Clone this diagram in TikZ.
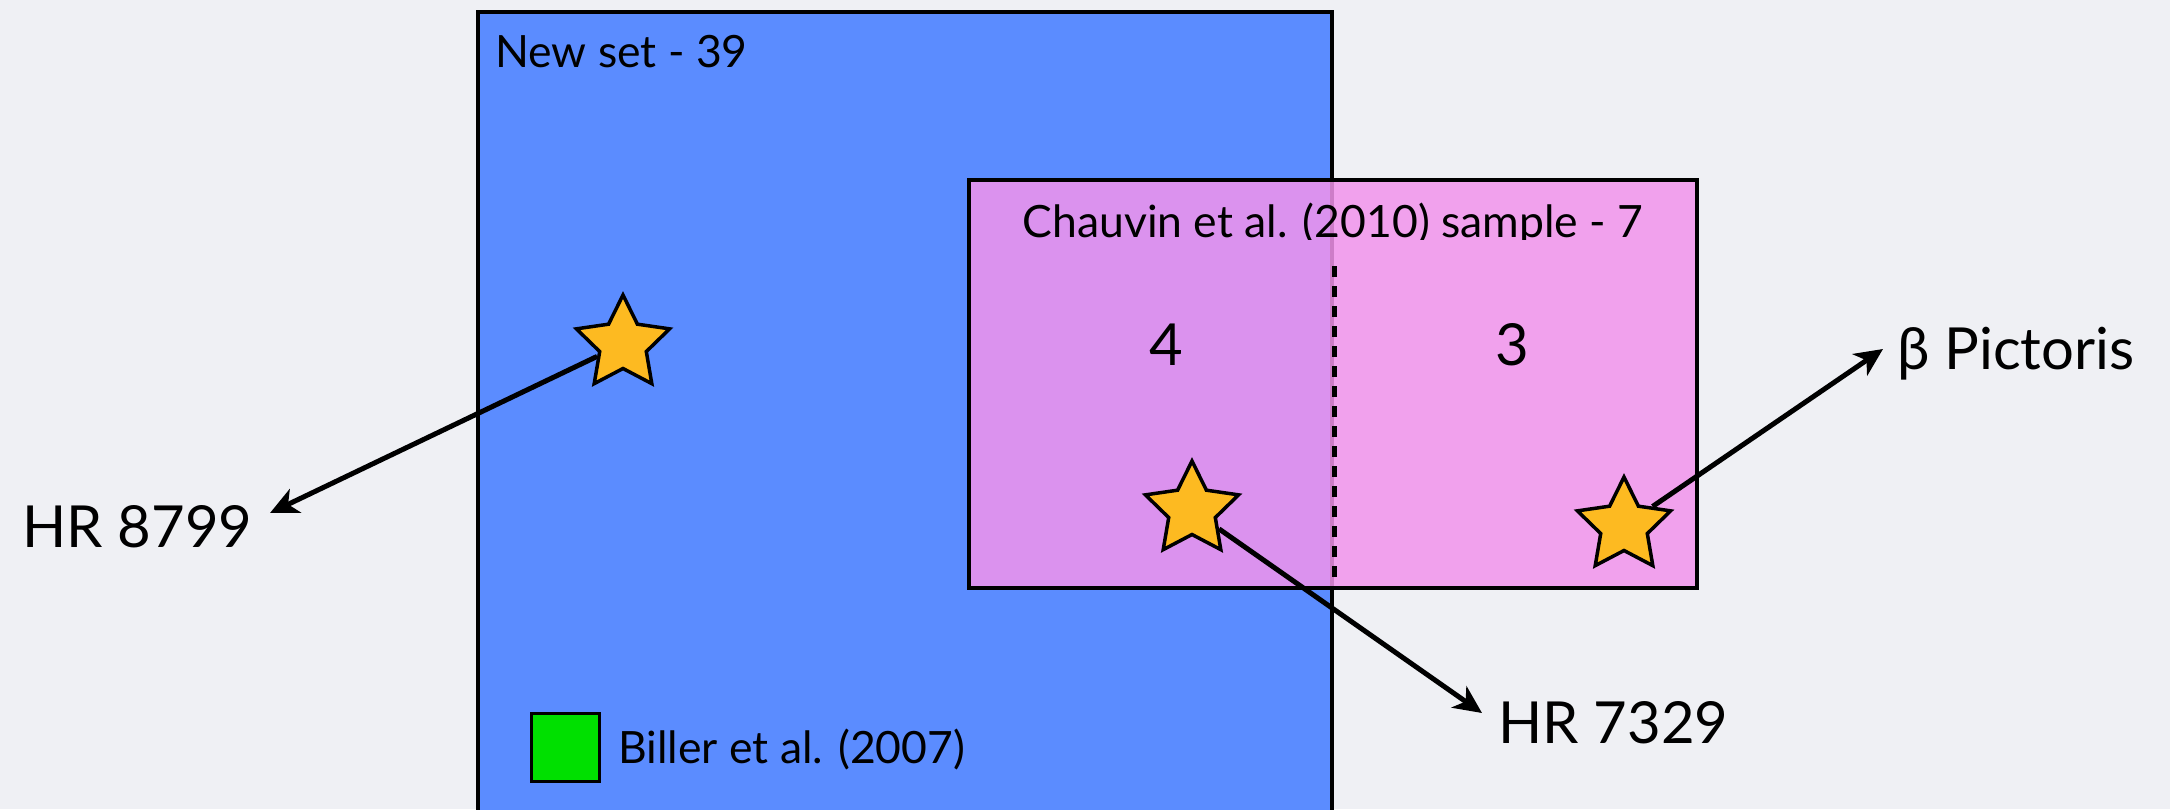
\documentclass[tikz,border=0pt]{standalone}
\usepackage{fontspec}
\setmainfont{Lato}
\usetikzlibrary{shapes.geometric,arrows.meta}
\definecolor{bg}{HTML}{EFF0F4}
\definecolor{setblue}{HTML}{5B8CFF}
\definecolor{samplepink}{HTML}{F294EC}
\definecolor{billergreen}{HTML}{00E000}
\definecolor{stargold}{HTML}{FDBA21}
\tikzset{
  box/.style={draw=black, line width=3.5pt},
  lbl/.style={anchor=base west, inner sep=0pt, font=\fontsize{44.5}{54}\selectfont},
  biglbl/.style={inner sep=0pt, font=\fontsize{58}{70}\selectfont},
  starmark/.style={star, star points=5, star point ratio=2.0, minimum size=98pt,
    inner sep=0pt, draw=black, line width=3.5pt, fill=stargold},
  pointer/.style={line width=5pt, -{Stealth[length=28pt,width=26pt,inset=8pt]}},
}
\begin{document}
\begin{tikzpicture}[x=1pt,y=-1pt]
  % page and background
  \fill[bg] (0,0) rectangle (2170,809);
  \useasboundingbox (0,0) rectangle (2170,809);

  % the new set
  \path[box, fill=setblue] (478,12) rectangle (1332,830);
  \node[lbl] (newset) at (495,67) {New set - 39};

  % Biller et al. legend
  \node[draw=black, line width=3pt, fill=billergreen, minimum size=68pt,
        inner sep=0pt] (billerbox) at (565,747) {};
  \node[lbl] (biller) at (618,763) {Biller et al. (2007)};

  % Chauvin et al. sample, overlapping the new set
  \path[box, fill=samplepink, fill opacity=0.85] (969,180) rectangle (1697,588);
  \coordinate (divtop) at (1334,266);
  \coordinate (divbot) at (1334,588);
  \draw[line width=5pt, dash pattern=on 11pt off 9pt] (divtop) -- (divbot);
  \begin{scope}
    \clip (969,180) rectangle (1697,239);
    \node[inner sep=0pt, anchor=base, font=\fontsize{44.5}{54}\selectfont]
      (chauvin) at (1333,237) {Chauvin et al. (2010) sample - 7};
  \end{scope}
  \node[biglbl, anchor=base] (four) at (1166,365) {4};
  \node[biglbl, anchor=base] (three) at (1512,365) {3};

  % stars
  \node[starmark] (s1) at (623,344) {};
  \node[starmark] (s2) at (1192,510) {};
  \node[starmark] (s3) at (1624,526) {};

  % star names
  \node[biglbl, anchor=base west] (hr8799) at (22,547) {HR 8799};
  \node[biglbl, anchor=base west] (hr7329) at (1498,743) {HR 7329};
  \node[biglbl, anchor=base west] (betapic) at (1897,369) {β Pictoris};

  \coordinate (t1) at (270,513);
  \coordinate (t2) at (1482,713);
  \coordinate (t3) at (1883,349);

  \draw[pointer] (s1) -- (t1);
  \draw[pointer] (s2) -- (t2);
  \draw[pointer] (s3) -- (t3);
\end{tikzpicture}
\end{document}
